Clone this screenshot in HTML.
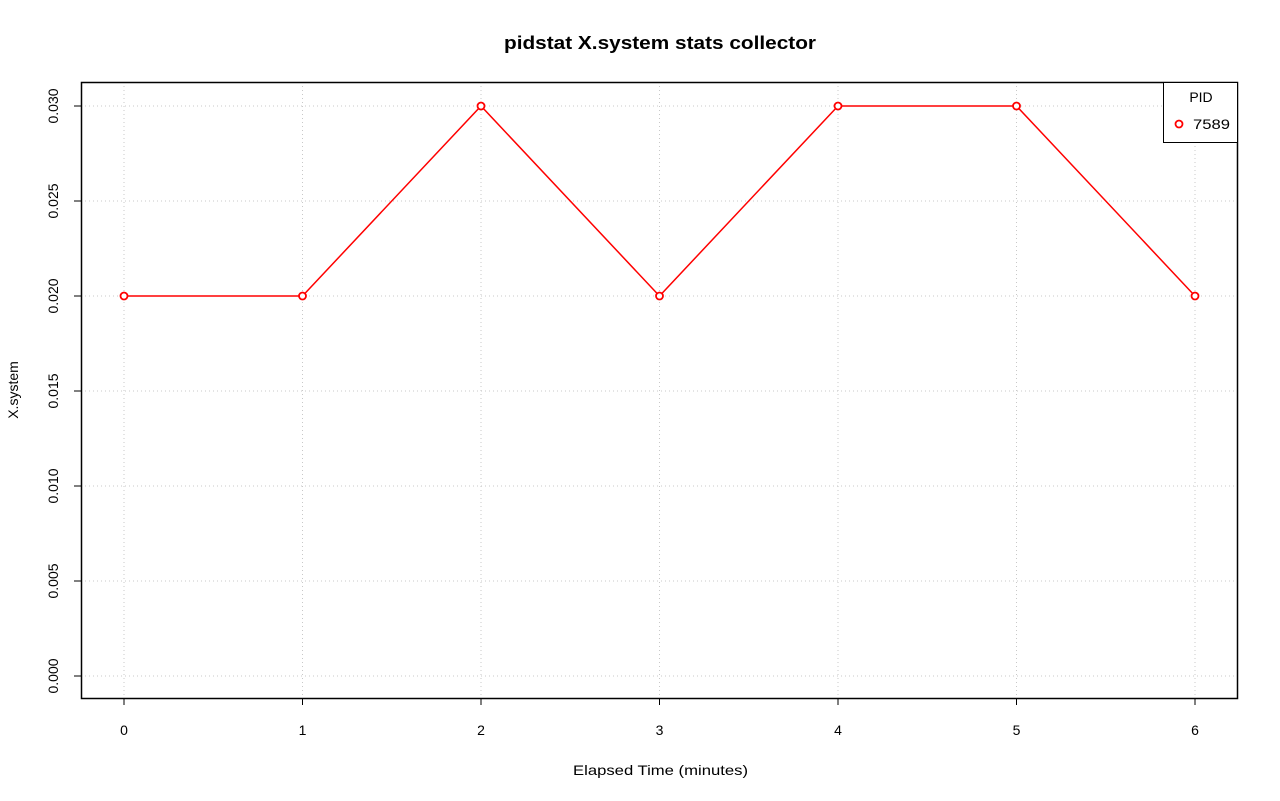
<!DOCTYPE html>
<html><head><style>body{margin:0;background:#fff}svg{display:block}</style></head>
<body>
<svg width="1280" height="801" xmlns="http://www.w3.org/2000/svg" font-family="Liberation Sans, sans-serif">
<rect width="1280" height="801" fill="#fff"/>
<text x="504" y="49" font-size="18" font-weight="bold" textLength="312" lengthAdjust="spacingAndGlyphs">pidstat X.system stats collector</text>
<g stroke="#c8c8c8" stroke-dasharray="1,3" stroke-width="1">
<line x1="124" y1="82" x2="124" y2="698"/><line x1="302.5" y1="82" x2="302.5" y2="698"/>
<line x1="481" y1="82" x2="481" y2="698"/><line x1="659.5" y1="82" x2="659.5" y2="698"/>
<line x1="838" y1="82" x2="838" y2="698"/><line x1="1016.5" y1="82" x2="1016.5" y2="698"/>
<line x1="1195" y1="82" x2="1195" y2="698"/>
<line x1="81" y1="106" x2="1238" y2="106"/><line x1="81" y1="201" x2="1238" y2="201"/>
<line x1="81" y1="296" x2="1238" y2="296"/><line x1="81" y1="391" x2="1238" y2="391"/>
<line x1="81" y1="486" x2="1238" y2="486"/><line x1="81" y1="581" x2="1238" y2="581"/>
<line x1="81" y1="676" x2="1238" y2="676"/>
</g>
<rect x="81.5" y="82.5" width="1156" height="616" fill="none" stroke="#000" stroke-width="1.5"/>
<g stroke="#000" stroke-width="1">
<line x1="124" y1="698" x2="124" y2="705"/><line x1="302.5" y1="698" x2="302.5" y2="705"/>
<line x1="481" y1="698" x2="481" y2="705"/><line x1="659.5" y1="698" x2="659.5" y2="705"/>
<line x1="838" y1="698" x2="838" y2="705"/><line x1="1016.5" y1="698" x2="1016.5" y2="705"/>
<line x1="1195" y1="698" x2="1195" y2="705"/>
<line x1="74" y1="106" x2="81" y2="106"/><line x1="74" y1="201" x2="81" y2="201"/>
<line x1="74" y1="296" x2="81" y2="296"/><line x1="74" y1="391" x2="81" y2="391"/>
<line x1="74" y1="486" x2="81" y2="486"/><line x1="74" y1="581" x2="81" y2="581"/>
<line x1="74" y1="676" x2="81" y2="676"/>
</g>
<g font-size="14" text-anchor="middle">
<text x="124" y="735">0</text><text x="302.5" y="735">1</text><text x="481" y="735">2</text>
<text x="659.5" y="735">3</text><text x="838" y="735">4</text><text x="1016.5" y="735">5</text>
<text x="1195" y="735">6</text>
</g>
<text x="573" y="775" font-size="14" textLength="175" lengthAdjust="spacingAndGlyphs">Elapsed Time (minutes)</text>
<g font-size="14" text-anchor="middle">
<text transform="translate(58,106) rotate(-90)">0.030</text>
<text transform="translate(58,201) rotate(-90)">0.025</text>
<text transform="translate(58,296) rotate(-90)">0.020</text>
<text transform="translate(58,391) rotate(-90)">0.015</text>
<text transform="translate(58,486) rotate(-90)">0.010</text>
<text transform="translate(58,581) rotate(-90)">0.005</text>
<text transform="translate(58,676) rotate(-90)">0.000</text>
<text transform="translate(18,390) rotate(-90)">X.system</text>
</g>
<polyline points="124,296 302.5,296 481,106 659.5,296 838,106 1016.5,106 1195,296" fill="none" stroke="#f00" stroke-width="1.5"/>
<g fill="#fff" stroke="#f00" stroke-width="1.8">
<circle cx="124" cy="296" r="3.5"/><circle cx="302.5" cy="296" r="3.5"/><circle cx="481" cy="106" r="3.5"/>
<circle cx="659.5" cy="296" r="3.5"/><circle cx="838" cy="106" r="3.5"/><circle cx="1016.5" cy="106" r="3.5"/>
<circle cx="1195" cy="296" r="3.5"/>
</g>
<rect x="1163.5" y="82.5" width="74" height="60" fill="#fff" stroke="#000" stroke-width="1"/>
<text x="1201" y="102" font-size="14" text-anchor="middle">PID</text>
<circle cx="1179" cy="124" r="3.5" fill="#fff" stroke="#f00" stroke-width="1.8"/>
<text x="1193" y="129" font-size="14" textLength="37" lengthAdjust="spacingAndGlyphs">7589</text>
</svg>
</body></html>
